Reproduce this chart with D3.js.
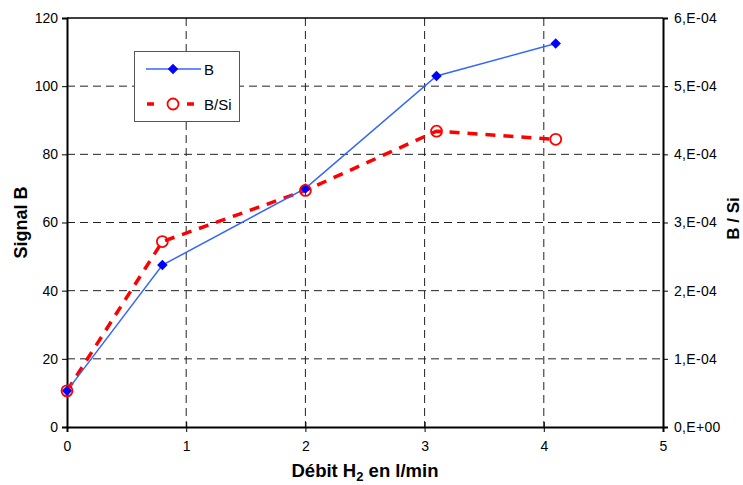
<!DOCTYPE html>
<html><head><meta charset="utf-8">
<script src="https://cdn.jsdelivr.net/npm/d3@7"></script>
<style>
html,body{margin:0;padding:0;background:#fff;}
text{font-family:"Liberation Sans",Arial,sans-serif;}
</style></head>
<body><svg id="c" width="743" height="485"></svg>
<script>
const debit = [0, 0.8, 2, 3.1, 4.1];
const signalB = [10.6, 47.5, 70, 103, 112.5];
const ratioBSi = [5.3e-5, 2.72e-4, 3.47e-4, 4.34e-4, 4.22e-4];
const xTicks = [0, 1, 2, 3, 4, 5];
const yLeftTicks = [0, 20, 40, 60, 80, 100, 120];
const yRightTicks = [0, 1e-4, 2e-4, 3e-4, 4e-4, 5e-4, 6e-4];
const rightTickLabels = ["0,E+00","1,E-04","2,E-04","3,E-04","4,E-04","5,E-04","6,E-04"];

const svg = d3.select("#c");
const L = 67, R = 663, T = 18, B = 427;
const x = d3.scaleLinear().domain([0,5]).range([L,R]);
const yL = d3.scaleLinear().domain([0,120]).range([B,T]);
const yR = d3.scaleLinear().domain([0,6e-4]).range([B,T]);

// gridlines
const g = svg.append("g");
g.selectAll("line.h").data(yLeftTicks.slice(1,-1)).enter().append("line")
  .attr("x1",L).attr("x2",R).attr("y1",d=>yL(d)).attr("y2",d=>yL(d))
  .attr("stroke","#222").attr("stroke-width",1).attr("stroke-dasharray","8,5");
g.selectAll("line.v").data(xTicks.slice(1,-1)).enter().append("line")
  .attr("y1",T).attr("y2",B).attr("x1",d=>x(d)).attr("x2",d=>x(d))
  .attr("stroke","#222").attr("stroke-width",1).attr("stroke-dasharray","8,5");
// top border
svg.append("line").attr("x1",L).attr("x2",R).attr("y1",T).attr("y2",T).attr("stroke","#000").attr("stroke-width",1.5);

// axes
const axL = svg.append("g").attr("transform",`translate(${L},0)`)
  .call(d3.axisLeft(yL).tickValues(yLeftTicks).tickSize(5).tickPadding(4).tickFormat(d3.format("d")));
const axR = svg.append("g").attr("transform",`translate(${R},0)`)
  .call(d3.axisRight(yR).tickValues(yRightTicks).tickSize(5).tickPadding(6).tickFormat((d,i)=>rightTickLabels[i]));
const axB = svg.append("g").attr("transform",`translate(0,${B})`)
  .call(d3.axisBottom(x).tickValues(xTicks).tickSize(5).tickPadding(9).tickFormat(d3.format("d")));
[axL,axR,axB].forEach(a=>{
  a.select(".domain").attr("stroke","#000").attr("stroke-width",2);
  a.selectAll(".tick line").attr("stroke","#000").attr("stroke-width",1);
  a.selectAll("text").attr("font-family","Liberation Sans, Arial, sans-serif").attr("font-size",14).attr("fill","#000");
});
axR.selectAll("text").attr("letter-spacing",0.3);
axB.selectAll(".tick line").attr("y1",-5).attr("y2",5);

// axis titles
svg.append("text").attr("transform",`translate(27,${(T+B)/2}) rotate(-90)`)
  .attr("text-anchor","middle").attr("font-weight","bold").attr("font-size",18).text("Signal B");
svg.append("text").attr("transform",`translate(739,${(T+B)/2 - 4}) rotate(-90)`)
  .attr("text-anchor","middle").attr("font-weight","bold").attr("font-size",17).text("B / Si");
const xt = svg.append("text").attr("x",(L+R)/2).attr("y",477).attr("text-anchor","middle")
  .attr("font-weight","bold").attr("font-size",18.5);
xt.append("tspan").text("Débit H");
xt.append("tspan").attr("font-size",13).attr("dy",4).text("2");
xt.append("tspan").attr("dy",-4).text(" en l/min");

// series B/Si (red dashed)
const lineR = d3.line().x((d,i)=>x(debit[i])).y(d=>yR(d));
svg.append("path").datum(ratioBSi).attr("d",lineR).attr("fill","none")
  .attr("stroke","#FF0000").attr("stroke-width",3.5).attr("stroke-dasharray","10,8");
// series B (blue)
const lineB = d3.line().x((d,i)=>x(debit[i])).y(d=>yL(d));
svg.append("path").datum(signalB).attr("d",lineB).attr("fill","none")
  .attr("stroke","#3366FF").attr("stroke-width",1.5);
const diamond = d3.symbol().type(d3.symbolDiamond2).size(70);
svg.selectAll("path.dm").data(signalB).enter().append("path")
  .attr("transform",(d,i)=>`translate(${x(debit[i])},${yL(d)})`)
  .attr("d",diamond).attr("fill","#0000FF");
svg.selectAll("circle.ci").data(ratioBSi).enter().append("circle")
  .attr("cx",(d,i)=>x(debit[i])).attr("cy",d=>yR(d)).attr("r",5.5)
  .attr("fill","none").attr("stroke","#FF0000").attr("stroke-width",1.8);

// legend
const lg = svg.append("g");
lg.append("rect").attr("x",134.5).attr("y",51.5).attr("width",105).attr("height",70)
  .attr("fill","#fff").attr("stroke","#555").attr("stroke-width",1);
lg.append("line").attr("x1",146).attr("x2",201).attr("y1",69).attr("y2",69).attr("stroke","#3366FF").attr("stroke-width",1.5);
lg.append("path").attr("transform","translate(173,69)").attr("d",diamond).attr("fill","#0000FF");
lg.append("text").attr("x",204).attr("y",75).attr("font-size",15).text("B");
lg.append("line").attr("x1",147).attr("x2",201).attr("y1",104).attr("y2",104).attr("stroke","#FF0000").attr("stroke-width",3.5).attr("stroke-dasharray","7,13");
lg.append("circle").attr("cx",173).attr("cy",104).attr("r",5.5).attr("fill","#fff").attr("stroke","#FF0000").attr("stroke-width",1.8);
lg.append("text").attr("x",204).attr("y",110).attr("font-size",15).text("B/Si");
</script></body></html>
